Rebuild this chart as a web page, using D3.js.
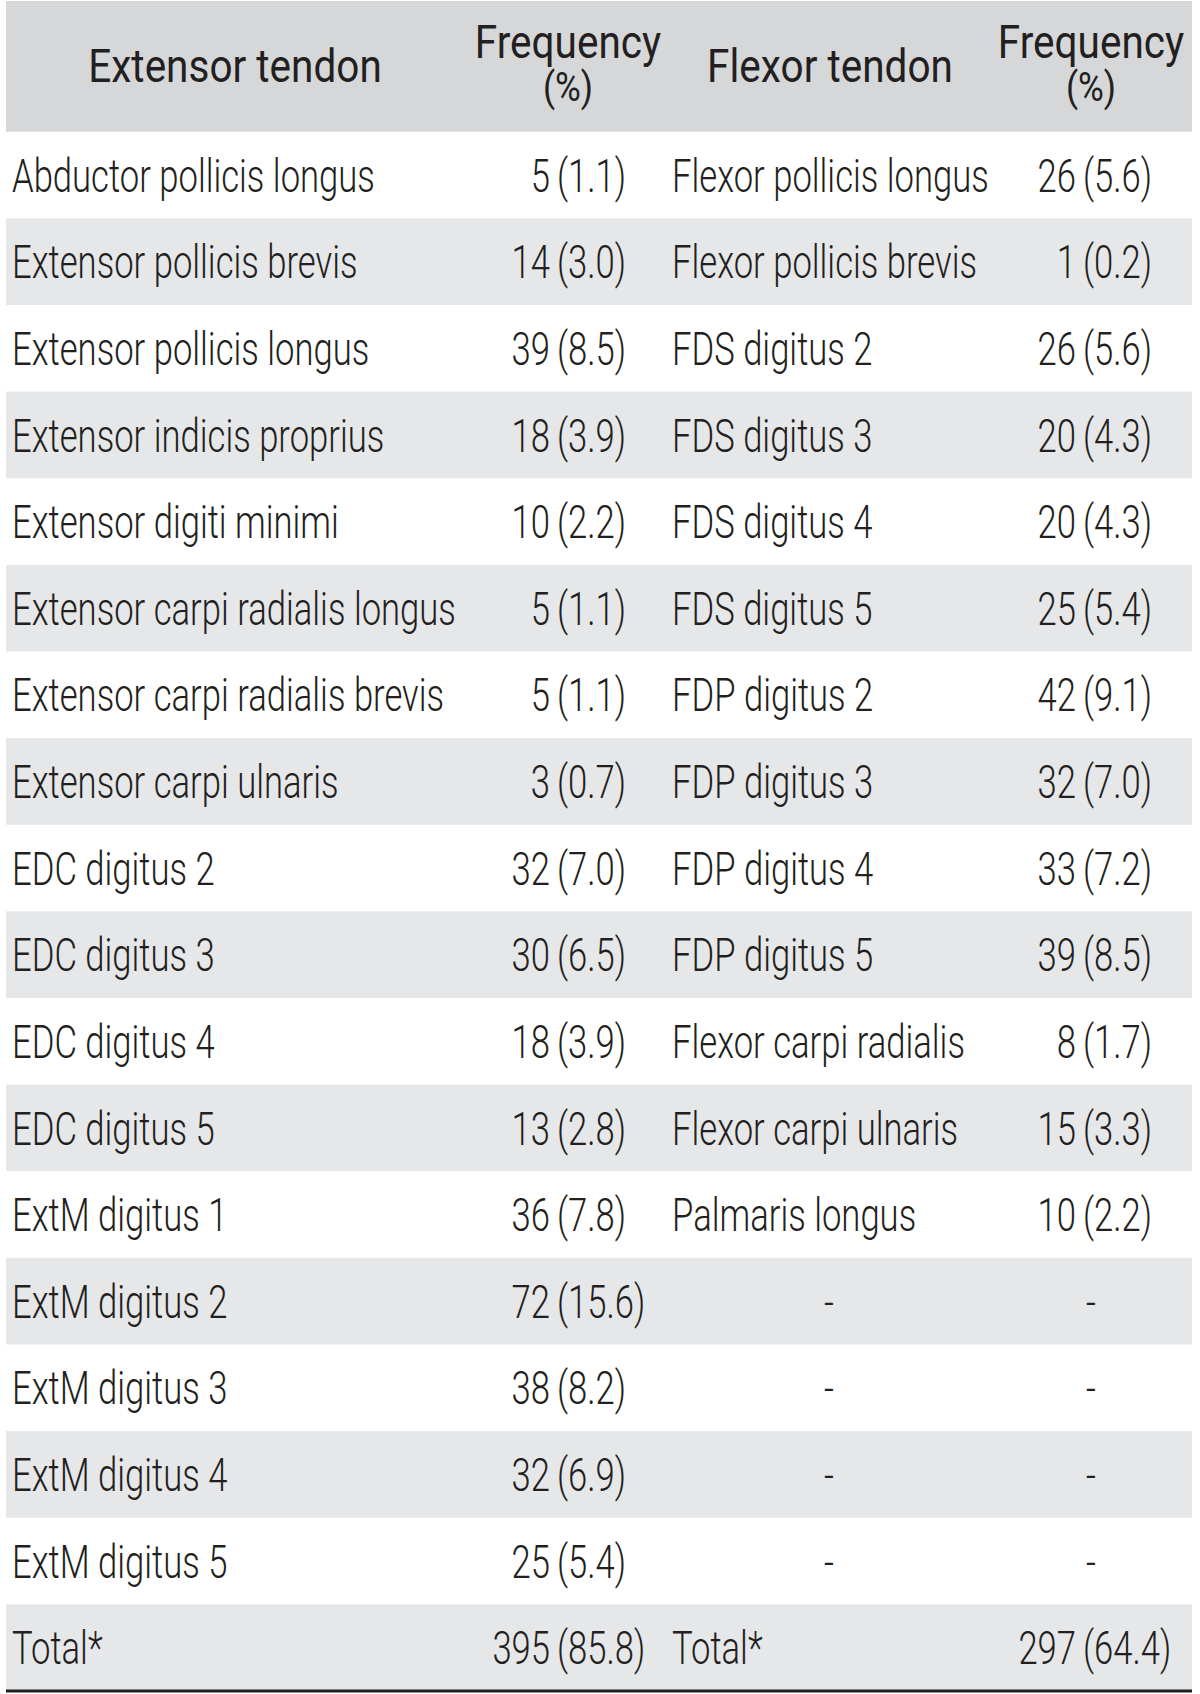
<!DOCTYPE html>
<html>
<head>
<meta charset="utf-8">
<script src="https://cdn.jsdelivr.net/npm/d3@7"></script>
<style>
  body { margin: 0; background: #fff; }
  svg text { font-family: "Roboto", "Liberation Sans Narrow", "DejaVu Sans Condensed", sans-serif; fill: #231f20; font-weight: 300; }
  svg .hd { font-weight: 400; }
</style>
</head>
<body>
<svg id="tbl" width="1200" height="1694"></svg>
<script>
// table data
var headers = ["Extensor tendon", "Frequency|(%)", "Flexor tendon", "Frequency|(%)"];

var extensor = ["Abductor pollicis longus", "Extensor pollicis brevis", "Extensor pollicis longus",
  "Extensor indicis proprius", "Extensor digiti minimi", "Extensor carpi radialis longus",
  "Extensor carpi radialis brevis", "Extensor carpi ulnaris", "EDC digitus 2", "EDC digitus 3",
  "EDC digitus 4", "EDC digitus 5", "ExtM digitus 1", "ExtM digitus 2", "ExtM digitus 3",
  "ExtM digitus 4", "ExtM digitus 5", "Total*"];
var extCount = [5, 14, 39, 18, 10, 5, 5, 3, 32, 30, 18, 13, 36, 72, 38, 32, 25, 395];
var extPct = ["1.1", "3.0", "8.5", "3.9", "2.2", "1.1", "1.1", "0.7", "7.0", "6.5", "3.9", "2.8", "7.8", "15.6", "8.2", "6.9", "5.4", "85.8"];

var flexor = ["Flexor pollicis longus", "Flexor pollicis brevis", "FDS digitus 2", "FDS digitus 3",
  "FDS digitus 4", "FDS digitus 5", "FDP digitus 2", "FDP digitus 3", "FDP digitus 4", "FDP digitus 5",
  "Flexor carpi radialis", "Flexor carpi ulnaris", "Palmaris longus", "-", "-", "-", "-", "Total*"];
var flexCount = [26, 1, 26, 20, 20, 25, 42, 32, 33, 39, 8, 15, 10, null, null, null, null, 297];
var flexPct = ["5.6", "0.2", "5.6", "4.3", "4.3", "5.4", "9.1", "7.0", "7.2", "8.5", "1.7", "3.3", "2.2", null, null, null, null, "64.4"];

var svg = d3.select("#tbl"),
    left = 6, right = 1192,
    headTop = 1, headBottom = 131.7, tableBottom = 1691;

var rows = d3.range(extensor.length);
var y = d3.scaleBand().domain(rows).range([headBottom, tableBottom]);

var fontSize = 46;

// calibrate squeeze so the font reads as condensed
var probe = svg.append("text").attr("font-size", fontSize).text("Abductor pollicis longus");
var sx = 363 / probe.node().getComputedTextLength();
probe.remove();
var sxHead = sx * 1.17;

function condense(sel, k) {
  sel.each(function() {
    var t = d3.select(this);
    var x = +t.attr("x"), yy = +t.attr("y");
    t.attr("x", 0).attr("y", 0)
     .attr("transform", "translate(" + x + "," + yy + ") scale(" + k + ",1)");
  });
}

// backgrounds
svg.append("rect")
  .attr("x", left).attr("y", headTop)
  .attr("width", right - left).attr("height", headBottom - headTop)
  .attr("fill", "#d5d7d9");

svg.selectAll(".band")
  .data(rows.filter(function(i) { return i % 2 == 1; }))
  .enter().append("rect")
  .attr("class", "band")
  .attr("x", left).attr("y", function(i) { return y(i); })
  .attr("width", right - left).attr("height", y.bandwidth())
  .attr("fill", "#e6e7e9");

svg.append("rect")
  .attr("x", left).attr("y", tableBottom - 1.5)
  .attr("width", right - left).attr("height", 3)
  .attr("fill", "#231f20");

// header
var headX = [235, 568, 830, 1091];
var hg = svg.append("g");
headers.forEach(function(h, i) {
  var parts = h.split("|");
  if (parts.length == 1) {
    hg.append("text").attr("class", "hd")
      .attr("x", headX[i]).attr("y", 82)
      .attr("font-size", fontSize).attr("text-anchor", "middle")
      .text(parts[0]);
  } else {
    hg.append("text").attr("class", "hd")
      .attr("x", headX[i]).attr("y", 58)
      .attr("font-size", fontSize).attr("text-anchor", "middle")
      .text(parts[0]);
    hg.append("text").attr("class", "hd")
      .attr("x", headX[i]).attr("y", 101)
      .attr("font-size", 40).attr("text-anchor", "middle")
      .text(parts[1]);
  }
});
hg.selectAll("text").call(condense, sxHead);

var col1 = 12, split1 = 557, col3 = 672, split2 = 1083, dash3 = 829, dash4 = 1091;
function base(i) { return y(i) + 60; }

var g = svg.append("g");

g.selectAll(".ext").data(rows).enter().append("text")
  .attr("class", "ext")
  .attr("x", col1).attr("y", base).attr("font-size", fontSize)
  .text(function(i) { return extensor[i]; });

g.selectAll(".extn").data(rows).enter().append("text")
  .attr("class", "extn")
  .attr("x", split1 - 7).attr("y", base).attr("font-size", fontSize)
  .attr("text-anchor", "end")
  .text(function(i) { return extCount[i]; });

g.selectAll(".extp").data(rows).enter().append("text")
  .attr("class", "extp")
  .attr("x", split1).attr("y", base).attr("font-size", fontSize)
  .text(function(i) { return "(" + extPct[i] + ")"; });

g.selectAll(".flx").data(rows).enter().append("text")
  .attr("class", "flx")
  .attr("x", function(i) { return flexor[i] == "-" ? dash3 : col3; })
  .attr("y", base).attr("font-size", fontSize)
  .attr("text-anchor", function(i) { return flexor[i] == "-" ? "middle" : "start"; })
  .text(function(i) { return flexor[i]; });

g.selectAll(".flxn").data(rows).enter().append("text")
  .attr("class", "flxn")
  .attr("x", function(i) { return flexCount[i] == null ? dash4 : split2 - 7; })
  .attr("y", base).attr("font-size", fontSize)
  .attr("text-anchor", function(i) { return flexCount[i] == null ? "middle" : "end"; })
  .text(function(i) { return flexCount[i] == null ? "-" : flexCount[i]; });

g.selectAll(".flxp").data(rows.filter(function(i) { return flexPct[i] != null; })).enter().append("text")
  .attr("class", "flxp")
  .attr("x", split2).attr("y", base).attr("font-size", fontSize)
  .text(function(i) { return "(" + flexPct[i] + ")"; });

g.selectAll("text").call(condense, sx);
</script>
</body>
</html>
